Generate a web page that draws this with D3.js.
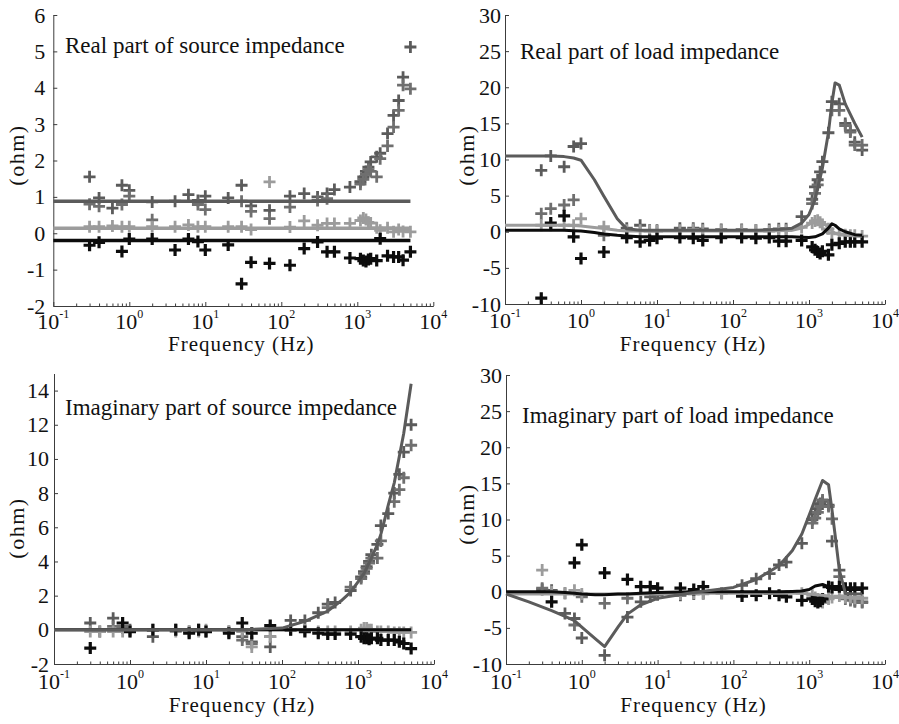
<!DOCTYPE html>
<html lang="en">
<head>
<meta charset="utf-8">
<title>Source and load impedance</title>
<script src="https://d3js.org/d3.v7.min.js"></script>
<style>
    body { margin: 0; background: #ffffff; }
    svg { display: block; background: #ffffff; }
    text { font-family: "Liberation Serif", "Times New Roman", serif; fill: #111; }
</style>
</head>
<body>
<div id="chart"></div>
<script>
"use strict";

// measured frequencies (Hz) shared by all marker series
const FREQ = [0.3, 0.4, 0.6, 0.8, 1, 2, 4, 6, 8, 10, 20, 30, 40, 70, 130, 200, 300, 400, 500, 800,
              1100, 1200, 1300, 1400, 1500, 1800, 2000, 2500, 3000, 3500, 4000, 5000];
// frequencies of the model curves
const LINE_FREQ = [0.1, 0.2, 0.4, 0.6, 0.8, 1, 1.5, 2, 3, 4, 6, 10, 30, 100, 200, 400, 600, 800,
                   1000, 1200, 1500, 1800, 2000, 2200, 2500, 3000, 4000, 5000];

// --- real part of source impedance
const rsDarkA = [1.55, 0.97, 0.69, 1.32, 1.18, 0.86, 0.88, 1.06, 0.90, 1.02, 0.97, 1.32, 0.75, 0.63, 1.02, 1.09,
                 1.00, 1.09, 1.20, 1.27, 1.42, 1.55, 1.70, 1.82, 1.96, 2.10, 2.20, 2.74, 3.24, 3.65, 4.29, 5.12];
const rsDarkB = [0.80, 0.74, null, 0.79, 1.02, 0.37, null, null, 0.79, 0.65, null, 0.88, 0.60, 0.40, 0.72, null,
                 0.90, 0.95, null, null, 1.35, 1.48, 1.62, 1.75, 1.70, 1.55, 2.05, 2.40, 2.92, 3.38, 4.07, 3.97];
const rsLight = [0.18, 0.18, 0.20, 0.18, 0.18, 0.18, 0.18, 0.23, 0.18, 0.18, 0.18, 0.18, 0.10, 1.41, 0.17, 0.34,
                 0.22, 0.27, 0.27, 0.27, 0.35, 0.42, 0.38, 0.30, 0.28, 0.15, 0.08, 0.15, 0.04, 0.10, 0.05, 0.04];
const rsBlack = [-0.33, -0.25, null, -0.50, -0.16, -0.16, -0.46, -0.16, -0.23, -0.46, -0.32, -1.39, -0.80, -0.83, -0.88, -0.42,
                 -0.24, -0.51, -0.51, -0.68, -0.70, -0.75, -0.78, -0.72, -0.70, -0.75, -0.15, -0.62, -0.65, -0.65, -0.74, -0.51];
const rsLineDark = [0.88, 0.88, 0.88, 0.88, 0.88, 0.88, 0.88, 0.88, 0.88, 0.88, 0.88, 0.88, 0.88, 0.88,
                    0.88, 0.88, 0.88, 0.88, 0.88, 0.88, 0.88, 0.88, 0.88, 0.88, 0.88, 0.88, 0.88, 0.88];
const rsLineLight = [0.14, 0.14, 0.14, 0.14, 0.14, 0.14, 0.14, 0.14, 0.14, 0.14, 0.14, 0.14, 0.14, 0.14,
                     0.14, 0.14, 0.14, 0.14, 0.14, 0.14, 0.14, 0.14, 0.14, 0.14, 0.14, 0.14, 0.14, 0.14];
const rsLineBlack = [-0.2, -0.2, -0.2, -0.2, -0.2, -0.2, -0.2, -0.2, -0.2, -0.2, -0.2, -0.2, -0.2, -0.2,
                     -0.2, -0.2, -0.2, -0.2, -0.2, -0.2, -0.2, -0.2, -0.2, -0.2, -0.2, -0.2, -0.2, -0.2];

// --- real part of load impedance
const rlDarkA = [8.5, 10.5, 9.0, 11.8, 12.2, null, 0.5, 0.9, 0.2, 0.2, 0.5, 0.5, 0.4, 0.3, 0.3, 0.2,
                 0.3, 0.4, 0.4, 2.1, 4.5, 6.2, 7.2, 8.3, 9.7, 13.7, 18.0, 17.7, 15.0, 14.0, 12.4, 11.3];
const rlDarkB = [2.5, 3.2, 3.7, 4.4, null, -0.5, null, null, null, null, null, 0.2, null, null, null, null,
                 null, null, null, null, 3.9, 5.3, 6.5, null, null, null, 16.8, 16.8, 14.7, 13.8, 12.0, 12.0];
const rlLight = [0.9, 0.9, 0.9, 0.9, 1.8, 0.7, 0.2, 0.2, 0.1, 0.1, 0.2, 0.3, 0.2, 0.2, 0.2, 0.2,
                 0.1, 0.2, 0.2, 0.6, 1.2, 1.5, 1.6, 1.3, 1.0, 0.4, -0.2, -0.3, -0.4, -0.5, -0.5, -0.6];
const rlBlack = [-9.2, 1.2, 2.2, -0.7, -3.7, -2.8, -0.8, -1.4, -1.2, -0.9, -0.8, -0.9, -1.2, -0.8, -0.8, -0.9,
                 -0.8, -1.3, -1.3, -1.2, -2.1, -2.5, -2.8, -3.0, -2.7, -3.2, -1.8, -1.6, -1.4, -1.4, -1.4, -1.4];
const rlLineDark = [10.5, 10.5, 10.5, 10.4, 10.2, 9.9, 7.2, 4.9, 1.8, 0.4, 0.2, 0.2, 0.2, 0.2,
                    0.2, 0.3, 0.5, 1.2, 2.4, 4.4, 8.8, 13.7, 17.8, 20.6, 20.3, 17.7, 15.0, 13.1];
const rlLineLight = [0.9, 0.9, 0.9, 0.9, 0.85, 0.8, 0.6, 0.45, 0.2, 0.1, 0.1, 0.1, 0.1, 0.1,
                     0.1, 0.15, 0.2, 0.5, 1.0, 1.6, 1.3, 0.6, 0.1, -0.2, -0.4, -0.5, -0.6, -0.6];
const rlLineBlack = [0.2, 0.2, 0.2, 0.2, 0.15, 0.1, -0.1, -0.3, -0.5, -0.6, -0.7, -0.7, -0.7, -0.7,
                     -0.7, -0.7, -0.7, -0.75, -0.8, -0.7, -0.3, 0.5, 1.1, 0.9, 0.4, 0.0, -0.4, -0.5];

// --- imaginary part of source impedance
const isDarkA = [0.4, -0.1, 0.68, 0.1, 0.0, -0.4, 0.0, -0.1, 0.0, -0.1, -0.1, -0.4, -0.7, -1.0, 0.55, 0.55,
                 1.0, 1.5, 1.6, 2.3, 3.1, 3.4, 3.7, 4.0, 4.4, 5.0, 6.1, 6.8, 8.0, 9.1, 10.4, 12.0];
const isDarkB = [null, null, 0.2, 0.2, null, null, null, null, null, null, null, -0.6, -0.8, -0.4, null, null,
                 null, 1.3, null, 2.5, 3.0, 3.3, 3.6, 3.9, 4.2, 4.2, 5.2, null, 7.5, 8.2, 8.9, 10.8];
const isLight = [-0.1, -0.1, -0.1, -0.1, -0.1, 0.0, -0.1, -0.1, -0.1, 0.0, -0.1, -0.1, -1.0, -0.4, 0.0, 0.0,
                 -0.1, -0.1, -0.1, -0.1, 0.0, 0.1, 0.1, 0.0, 0.0, -0.1, -0.1, -0.1, -0.15, -0.15, -0.15, -0.15];
const isBlack = [-1.07, null, null, 0.4, -0.1, 0.0, 0.0, -0.2, 0.0, -0.1, -0.2, 0.4, -0.2, 0.25, 0.0, -0.1,
                 -0.2, -0.25, -0.25, -0.25, -0.4, -0.5, -0.5, -0.55, -0.5, -0.5, -0.6, -0.6, -0.6, -0.7, -0.8, -1.1];
const isLineDark = [0, 0, 0, 0, 0, 0, 0, 0, 0, 0, 0, 0, 0, 0.1,
                    0.5, 1.1, 1.7, 2.2, 2.8, 3.3, 4.2, 5.0, 5.6, 6.3, 7.3, 8.6, 11.5, 14.4];
const isLineLight = [0, 0, 0, 0, 0, 0, 0, 0, 0, 0, 0, 0, 0, 0,
                     0, 0, 0, 0, 0, 0, 0, 0, 0, 0, 0, 0, 0, 0];
const isLineBlack = [0, 0, 0, 0, 0, 0, 0, 0, 0, 0, 0, 0, 0, 0,
                     0, 0, 0, 0, 0, 0, 0, 0, 0, 0, 0, 0, 0, 0];

// --- imaginary part of load impedance
const ilDarkA = [0.3, 0.2, -3.0, -3.7, -6.4, -8.8, -3.5, -1.4, -0.7, -0.4, -0.5, -0.3, -0.2, -0.2, 0.9, 1.8,
                 2.5, 3.7, 4.1, 6.7, 10.0, 10.8, 11.5, 12.2, 12.5, 12.0, 7.0, 3.0, -0.6, -1.0, -1.2, -1.4];
const ilDarkB = [0.5, null, -0.2, -4.6, -0.7, -1.6, -0.9, null, null, null, null, null, null, null, null, null,
                 null, null, null, null, 9.5, 10.2, 11.0, 11.8, 12.7, 11.8, 10.1, 2.1, -1.0, -1.2, -1.4, -1.5];
const ilLight = [3.0, 0.0, -0.2, 0.2, -0.3, null, null, null, null, null, -0.3, -0.2, -0.3, -0.2, null, null,
                 null, null, null, -0.2, -0.5, -0.8, -1.0, -1.2, -1.5, -1.0, -0.8, -0.6, -0.8, -0.8, -0.9, -0.9];
const ilBlack = [null, -1.4, null, 4.0, 6.5, 2.6, 1.7, 0.7, 0.7, 0.5, 0.5, 0.3, 0.7, null, -0.6, -0.5,
                 -0.2, -0.5, -0.7, -1.2, -1.0, -1.3, -1.5, -1.3, -1.0, 0.7, 0.6, 0.7, 0.5, 0.5, 0.5, 0.5];
const ilLineDark = [-0.3, -1.4, -2.6, -3.4, -4.0, -4.9, -6.5, -7.6, -4.9, -3.1, -1.8, -0.9, -0.1, 0.6,
                    1.7, 3.6, 5.7, 8.0, 10.6, 12.8, 15.4, 14.8, 11.3, 7.8, 3.0, -0.2, -0.3, -0.3];
const ilLineLight = [-0.3, -0.3, -0.3, -0.3, -0.3, -0.3, -0.3, -0.3, -0.3, -0.3, -0.3, -0.3, -0.2, -0.2,
                     -0.2, -0.2, -0.2, -0.2, -0.3, -0.4, -0.5, -0.6, -0.7, -0.8, -0.8, -0.8, -0.8, -0.8];
const ilLineBlack = [0, 0, 0, -0.1, -0.2, -0.3, -0.4, -0.4, -0.3, -0.3, -0.2, -0.1, 0, 0,
                     0, 0, 0.05, 0.1, 0.3, 0.8, 1.0, 0.7, 0.4, 0.3, 0.3, 0.3, 0.3, 0.3];

const DECADES = [0.1, 1, 10, 100, 1000, 10000];
const DARK = "#5b5b5b", MID = "#6f6f6f", LIGHT = "#9c9c9c", BLACK = "#0c0c0c";

var svg_width = 899;
var svg_height = 724;

var panels = [
    {title: "Real part of source impedance", left: 53.3, right: 433.3, top: 15, bottom: 306,
     yDomain: [-2, 6], yTicks: d3.range(-2, 7, 1), pad: 8, titleX: 65, titleY: 53,
     ylabY: 155, xlabY: 351, tickLabY: 329, lw: 3.5,
     marks: [rsDarkA, rsDarkB, rsLight, rsBlack],
     lines: [[rsLineLight, LIGHT], [rsLineDark, DARK], [rsLineBlack, BLACK]]},
    {title: "Real part of load impedance", left: 505, right: 885, top: 15, bottom: 304,
     yDomain: [-10, 30], yTicks: d3.range(-10, 31, 5), pad: 4, titleX: 520, titleY: 59,
     ylabY: 155, xlabY: 351, tickLabY: 328, lw: 3,
     marks: [rlDarkA, rlDarkB, rlLight, rlBlack],
     lines: [[rlLineLight, LIGHT], [rlLineDark, DARK], [rlLineBlack, BLACK]]},
    {title: "Imaginary part of source impedance", left: 54, right: 434, top: 373.5, bottom: 664,
     yDomain: [-2, 15], yTicks: d3.range(-2, 15, 2), pad: 5, titleX: 65, titleY: 415,
     ylabY: 528, xlabY: 712, tickLabY: 689, lw: 3,
     marks: [isDarkA, isDarkB, isLight, isBlack],
     lines: [[isLineLight, LIGHT], [isLineBlack, BLACK], [isLineDark, DARK]]},
    {title: "Imaginary part of load impedance", left: 506, right: 885, top: 375, bottom: 664,
     yDomain: [-10, 30], yTicks: d3.range(-10, 31, 5), pad: 4, titleX: 522, titleY: 423,
     ylabY: 514, xlabY: 712, tickLabY: 689, lw: 3,
     marks: [ilDarkA, ilDarkB, ilLight, ilBlack],
     lines: [[ilLineLight, LIGHT], [ilLineBlack, BLACK], [ilLineDark, DARK]]}
];
var markColors = [DARK, MID, LIGHT, BLACK];

var svg = d3.select("#chart")
    .append("svg")
    .attr("width", svg_width)
    .attr("height", svg_height);

// minor tick values 2..9 of every decade
var minors = [];
DECADES.slice(0, -1).forEach(function(d)
{
    for(var k = 2; k < 10; k++) { minors.push(d * k); }
});

var plus = "M-6,0H6M0,-6V6";

panels.forEach(function(p)
{
    var x = d3.scaleLog().domain([0.1, 10000]).range([p.left, p.right]);
    var y = d3.scaleLinear().domain(p.yDomain).range([p.bottom, p.top]);
    var g = svg.append("g");

    // x axis, ticks pointing inward
    g.append("g")
        .attr("transform", "translate(0," + p.bottom + ")")
        .style("color", "#3c3c3c")
        .call(d3.axisBottom(x).tickValues(DECADES).tickSizeInner(-4).tickSizeOuter(0).tickFormat(""));
    g.append("g")
        .attr("transform", "translate(0," + p.bottom + ")")
        .style("color", "#3c3c3c")
        .call(d3.axisBottom(x).tickValues(minors).tickSizeInner(-2.5).tickSizeOuter(0).tickFormat(""))
        .select(".domain").remove();

    DECADES.forEach(function(d)
    {
        var t = g.append("text")
            .attr("x", x(d))
            .attr("y", p.tickLabY)
            .attr("text-anchor", "middle")
            .style("font-size", "22px")
            .text("10");
        t.append("tspan")
            .attr("dy", -11)
            .style("font-size", "12px")
            .text(Math.round(Math.log10(d)));
    });

    // y axis, ticks pointing inward
    g.append("g")
        .attr("transform", "translate(" + p.left + ",0)")
        .style("color", "#3c3c3c")
        .call(d3.axisLeft(y).tickValues(p.yTicks).tickSizeInner(-4).tickSizeOuter(0)
            .tickPadding(p.pad).tickFormat(function(d) { return String(d); }))
        .selectAll("text")
        .attr("fill", "#111")
        .style("font-size", "22px");

    g.append("text")
        .attr("transform", "translate(" + (p.left < 300 ? 16 : 466) + "," + p.ylabY + ") rotate(-90)")
        .attr("text-anchor", "middle")
        .attr("dominant-baseline", "central")
        .style("font-size", "22px")
        .style("letter-spacing", "1.5px")
        .text("(ohm)");

    g.append("text")
        .attr("x", (p.left + p.right) / 2 - 2)
        .attr("y", p.xlabY)
        .attr("text-anchor", "middle")
        .style("font-size", "21px")
        .style("letter-spacing", "1px")
        .text("Frequency (Hz)");

    g.append("text")
        .attr("x", p.titleX)
        .attr("y", p.titleY)
        .style("font-size", "23px")
        .text(p.title);

    // measured values as plus markers
    p.marks.forEach(function(vals, si)
    {
        var pts = FREQ.map(function(f, i) { return {f: f, v: vals[i]}; })
            .filter(function(d) { return d.v !== null; });
        g.append("g")
            .selectAll("path")
            .data(pts)
            .enter()
            .append("path")
            .attr("d", plus)
            .attr("transform", function(d) { return "translate(" + x(d.f) + "," + y(d.v) + ")"; })
            .attr("fill", "none")
            .attr("stroke", markColors[si])
            .attr("stroke-width", si === 3 ? 3.2 : 2.8);
    });

    // model curves
    var line = d3.line()
        .x(function(d) { return x(d.f); })
        .y(function(d) { return y(d.v); });
    p.lines.forEach(function(l)
    {
        g.append("path")
            .datum(LINE_FREQ.map(function(f, i) { return {f: f, v: l[0][i]}; }))
            .attr("d", line)
            .attr("fill", "none")
            .attr("stroke", l[1])
            .attr("stroke-width", p.lw)
            .attr("stroke-linejoin", "round");
    });
});
</script>
</body>
</html>
